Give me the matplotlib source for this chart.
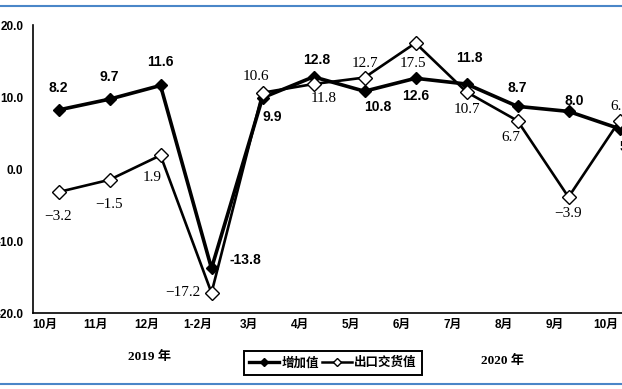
import matplotlib.pyplot as plt
from matplotlib.lines import Line2D

# months on the x axis (Oct 2019 - Oct 2020)
months = ['10月', '11月', '12月', '1-2月', '3月', '4月', '5月', '6月', '7月', '8月', '9月', '10月']
value_added = [8.2, 9.7, 11.6, -13.8, 9.9, 12.8, 10.8, 12.6, 11.8, 8.7, 8.0, 5.6]
export_value = [-3.2, -1.5, 1.9, -17.2, 10.6, 11.8, 12.7, 17.5, 10.7, 6.7, -3.9, 6.7]
y_ticks = [-20, -10, 0, 10, 20]
years = ['2019 年', '2020 年']

# label offsets in pixels (dx, dy)
va_offsets = [(0, 22), (0, 22), (0, 23), (34, 8), (10, -19), (3, 17),
              (13, -16), (0, -18), (3, 26), (0, 18), (6, 10), (10, -18)]
ex_offsets = [(0, -24), (0, -25), (-8, -22), (-29, 0), (-7, 16), (10, -14),
              (0, 14), (-3, -20), (0, -18), (-7, -17), (0, -16), (0, 14)]

sans = ['Liberation Sans', 'Noto Sans CJK SC']
serif = ['Liberation Serif', 'Noto Sans CJK SC']

fig = plt.figure(figsize=(6.22, 3.89), dpi=100)
ax = fig.add_axes([33 / 622, 76 / 389, 612 / 622, 288 / 389])

x = list(range(len(months)))
ax.plot(x, value_added, color='black', lw=2.6, marker='D', ms=6.5,
        mfc='black', mec='black', zorder=3, clip_on=False)
ax.plot(x, export_value, color='black', lw=1.9, marker='D', ms=7.5,
        mfc='white', mec='black', mew=1.0, zorder=4, clip_on=False)

for i, v in enumerate(value_added):
    ax.annotate(f'{v:.1f}', (i, v), xytext=va_offsets[i], textcoords='offset pixels',
                ha='center', va='center', fontsize=10, fontweight='bold',
                family=sans, annotation_clip=False)
for i, v in enumerate(export_value):
    ax.annotate(f'{v:.1f}'.replace('-', '−'), (i, v), xytext=ex_offsets[i],
                textcoords='offset pixels', ha='center', va='center',
                fontsize=11, family=serif, annotation_clip=False)

ax.set_xlim(-0.5, 11.5)
ax.set_ylim(-20, 20)
ax.set_yticks(y_ticks)
ax.set_yticklabels([f'{t:.1f}' for t in y_ticks], fontsize=8.5, fontweight='bold', family=sans)
ax.set_xticks([i - 0.27 for i in x])
ax.set_xticklabels(months, fontsize=8.5, fontweight='bold', family=sans)
ax.tick_params(axis='both', length=0)
ax.tick_params(axis='y', pad=7)
ax.tick_params(axis='x', pad=4)

for s in ['top', 'right']:
    ax.spines[s].set_visible(False)
for s in ['left', 'bottom']:
    ax.spines[s].set_linewidth(1.2)

# year labels under the month ticks
fig.text(150 / 622, 1 - 357 / 389, years[0], ha='center', va='center',
         fontsize=9.5, fontweight='bold', family=serif)
fig.text(503 / 622, 1 - 361 / 389, years[1], ha='center', va='center',
         fontsize=9.5, fontweight='bold', family=serif)

handles = [
    Line2D([], [], color='black', lw=2.4, marker='D', ms=4, mfc='black', mec='black'),
    Line2D([], [], color='black', lw=1.8, marker='D', ms=4.5, mfc='white', mec='black'),
]
leg = fig.legend(handles, ['增加值', '出口交货值'], loc='center', ncol=2,
                 bbox_to_anchor=(333 / 622, 1 - 363 / 389), frameon=True,
                 fancybox=False, edgecolor='black', framealpha=1,
                 handlelength=2.4, handletextpad=0.2, columnspacing=0.2,
                 borderpad=0.45, prop={'family': sans, 'size': 9, 'weight': 'bold'})
leg.get_frame().set_linewidth(1.4)

# blue rules at top and bottom
fig.add_artist(Line2D([0, 1], [1 - 6 / 389] * 2, color='#4a86c8', lw=1.5,
                      transform=fig.transFigure))
fig.add_artist(Line2D([0, 1], [1 - 384 / 389] * 2, color='#4a86c8', lw=1.5,
                      transform=fig.transFigure))

fig.savefig('out.png', dpi=100)
